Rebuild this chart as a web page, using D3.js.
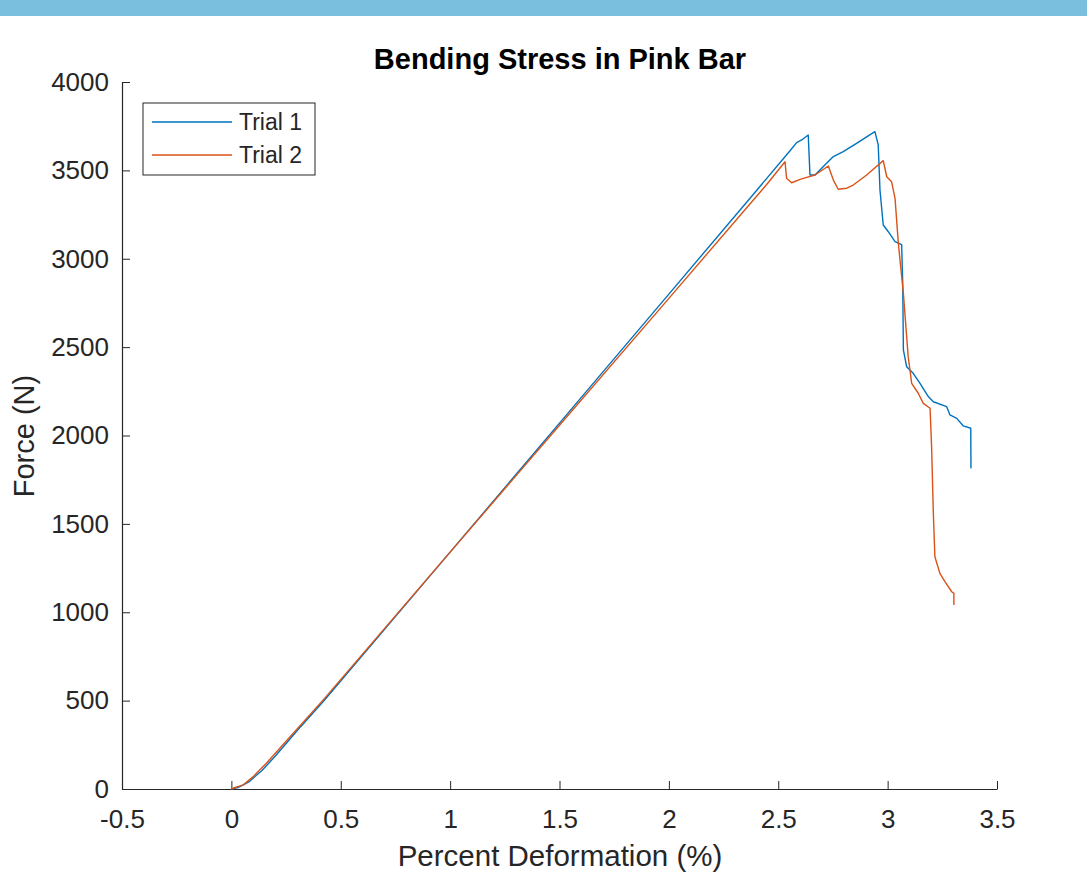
<!DOCTYPE html>
<html>
<head>
<meta charset="utf-8">
<script src="https://cdn.jsdelivr.net/npm/d3@7"></script>
<style>
  body { margin: 0; background: #fff; }
  svg { display: block; font-family: "Liberation Sans", Arial, sans-serif; }
</style>
</head>
<body>
<svg id="chart" width="1087" height="873"></svg>
<script>
// data
const seriesNames = ["Trial 1", "Trial 2"];
const trial1X = [0, 0.03, 0.08, 0.14, 0.2, 0.3, 0.42, 1.0, 1.5, 2.0, 2.4, 2.55, 2.584, 2.607, 2.637, 2.645, 2.668, 2.713, 2.752, 2.797, 2.858, 2.904, 2.942, 2.957, 2.965, 2.98, 3.003, 3.034, 3.064, 3.069, 3.072, 3.087, 3.117, 3.148, 3.186, 3.209, 3.27, 3.285, 3.316, 3.346, 3.38, 3.381];
const trial1Y = [0, 8, 40, 105, 185, 330, 495, 1340, 2070, 2800, 3385, 3605, 3657, 3672, 3700, 3474, 3474, 3530, 3578, 3606, 3653, 3690, 3719, 3644, 3389, 3191, 3153, 3097, 3080, 2861, 2484, 2389, 2352, 2295, 2220, 2191, 2163, 2116, 2097, 2054, 2041, 1814];
const trial2X = [0, 0.02, 0.053, 0.1, 0.161, 0.25, 0.419, 1.0, 1.5, 2.0, 2.447, 2.531, 2.538, 2.561, 2.6, 2.63, 2.668, 2.729, 2.752, 2.774, 2.813, 2.843, 2.904, 2.98, 2.996, 3.018, 3.034, 3.049, 3.072, 3.094, 3.11, 3.14, 3.163, 3.194, 3.201, 3.209, 3.216, 3.239, 3.262, 3.293, 3.303, 3.303];
const trial2Y = [0, 10, 22, 70, 147, 270, 503, 1340, 2058, 2776, 3420, 3549, 3455, 3430, 3449, 3460, 3474, 3525, 3445, 3393, 3399, 3417, 3474, 3555, 3464, 3436, 3340, 3087, 2804, 2446, 2295, 2239, 2182, 2154, 1937, 1560, 1314, 1220, 1173, 1116, 1107, 1041];
const xTicks = [-0.5, 0, 0.5, 1, 1.5, 2, 2.5, 3, 3.5];
const yTicks = [0, 500, 1000, 1500, 2000, 2500, 3000, 3500, 4000];

const colors = ["#0072BD", "#D95319"];
const ink = "#262626";

const svg = d3.select("#chart");
const width = 1087, height = 873;
const margin = { top: 82, right: 90, bottom: 84, left: 122 };

// header band
svg.append("rect").attr("x", 0).attr("y", 0).attr("width", width).attr("height", 16).attr("fill", "#7BBFDE");

const x = d3.scaleLinear().domain([-0.5, 3.5]).range([margin.left, width - margin.right]);
const y = d3.scaleLinear().domain([0, 4000]).range([height - margin.bottom, margin.top]);

// axes (ticks point inward)
const xAxis = svg.append("g").attr("transform", `translate(0,${y(0)})`)
    .call(d3.axisBottom(x).tickValues(xTicks).tickFormat(d => d).tickSizeInner(-8).tickSizeOuter(0).tickPadding(21));
const yAxis = svg.append("g").attr("transform", `translate(${x(-0.5)},0)`)
    .call(d3.axisLeft(y).tickValues(yTicks).tickFormat(d => d).tickSizeInner(-8).tickSizeOuter(0).tickPadding(13));
[xAxis, yAxis].forEach(a => {
    a.select(".domain").attr("stroke", ink).attr("stroke-width", 1.2);
    a.selectAll(".tick line").attr("stroke", ink).attr("stroke-width", 1);
    a.selectAll(".tick text").attr("fill", ink).style("font-size", "26px");
});

// lines
const line = d3.line().x(d => x(d[0])).y(d => y(d[1]));
const series = [d3.zip(trial1X, trial1Y), d3.zip(trial2X, trial2Y)];
series.forEach((s, i) => {
    svg.append("path").datum(s).attr("d", line)
        .attr("fill", "none").attr("stroke", colors[i]).attr("stroke-width", 1.4)
        .attr("stroke-linejoin", "round");
});

// title and axis labels
svg.append("text").attr("x", 560).attr("y", 69).attr("text-anchor", "middle")
    .style("font-size", "29px").style("font-weight", "bold").attr("fill", "#000")
    .text("Bending Stress in Pink Bar");
svg.append("text").attr("x", 560).attr("y", 866).attr("text-anchor", "middle")
    .style("font-size", "29.5px").attr("fill", ink).text("Percent Deformation (%)");
svg.append("text").attr("transform", `translate(34,436) rotate(-90)`).attr("text-anchor", "middle")
    .style("font-size", "29px").attr("fill", ink).text("Force (N)");

// legend
const lg = svg.append("g").attr("transform", "translate(143,103)");
lg.append("rect").attr("width", 172).attr("height", 72).attr("fill", "#fff").attr("stroke", ink).attr("stroke-width", 1);
seriesNames.forEach((name, i) => {
    const ly = 19 + i * 33;
    lg.append("line").attr("x1", 9).attr("x2", 89).attr("y1", ly).attr("y2", ly)
        .attr("stroke", colors[i]).attr("stroke-width", 1.4);
    lg.append("text").attr("x", 96).attr("y", ly + 8).style("font-size", "23px").attr("fill", ink).text(name);
});
</script>
</body>
</html>
